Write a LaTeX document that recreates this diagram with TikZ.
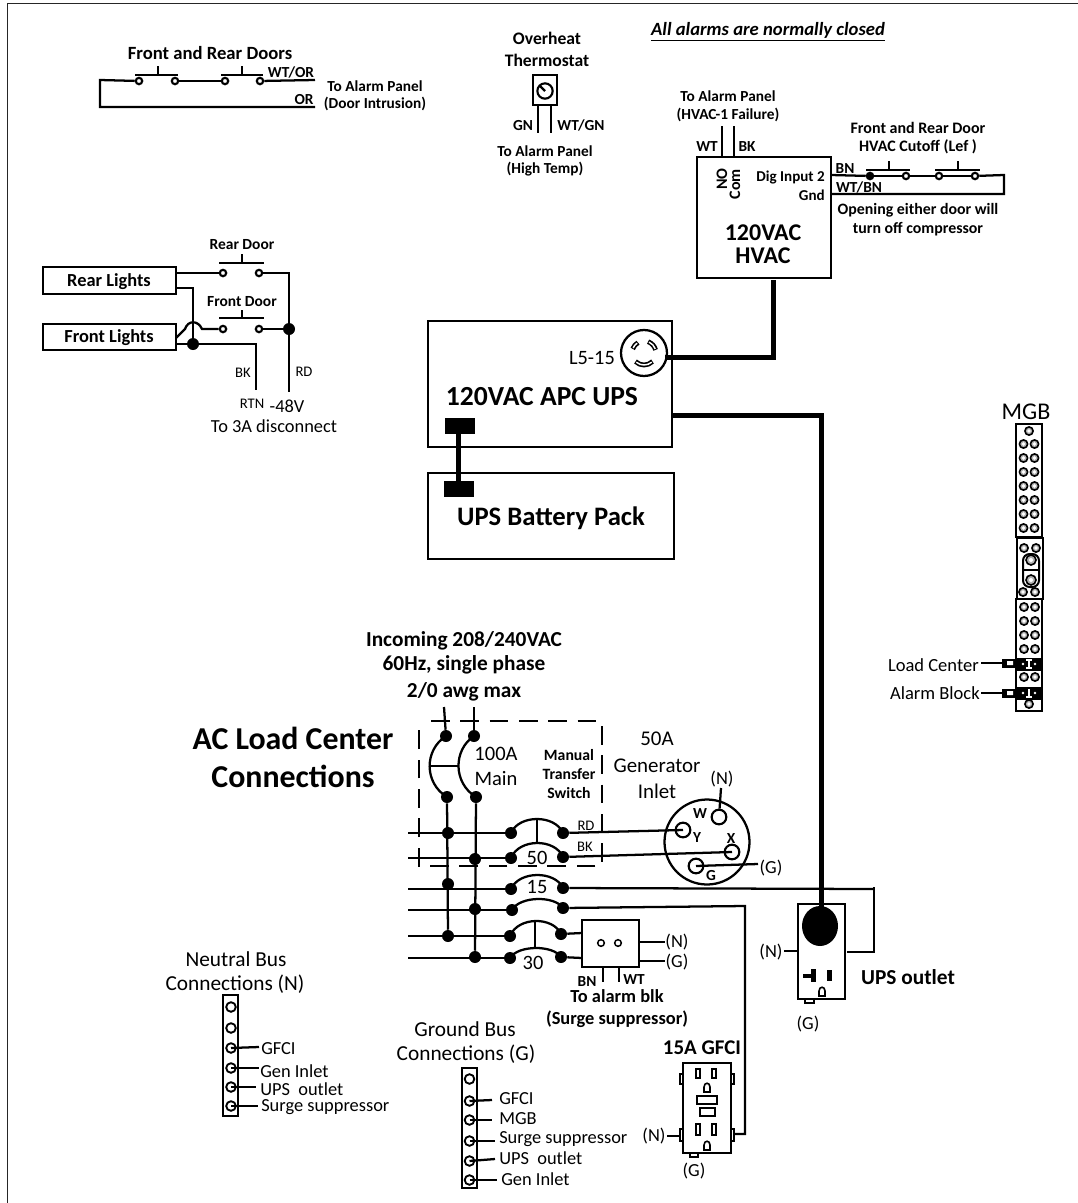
\documentclass[tikz,border=0pt]{standalone}
\usepackage{fontspec}
\setmainfont{Carlito}
\usetikzlibrary{shapes.geometric}
\newcounter{labn}
\newcommand\sz[1]{\fontsize{#1}{#1}\selectfont}
\newcommand\lab[5][]{\stepcounter{labn}\node[txt,font=\sz{#2},#1] (lab\arabic{labn}) at (#3,#4) {#5};}
\newcommand\blab[5][]{\stepcounter{labn}\node[txt,font=\sz{#2}\bfseries,#1] (lab\arabic{labn}) at (#3,#4) {#5};}
\newcommand\Tm[3]{\node[term] (#1) at (#2,#3) {};}
\newcommand\Dt[3]{\node[jdot] (#1) at (#2,#3) {};}
\newcommand\Co[3]{\coordinate (#1) at (#2,#3);}
\newcommand\Bx[6][]{\pgfmathsetmacro\bw{(#5-#3)*0.75}\pgfmathsetmacro\bh{(#6-#4)*0.75}\node[box,minimum width=\bw pt,minimum height=\bh pt,#1] (#2) at ({(#3+#5)/2},{(#4+#6)/2}) {};}
% breaker: name, xl, yl, xr, yr, peak
\newcommand\Brk[6]{\pgfmathsetmacro\cy{(#3+#5)/2-((#3+#5)/2-#6)/0.75}\Dt{#1L}{#2}{#3}\Dt{#1R}{#4}{#5}\draw[wire] (#1L.center) .. controls ({#2+8},\cy) and ({#4-8},\cy) .. (#1R.center);}
\newcommand\Gd[2]{\draw[slot] ({#1-3},{#2+4}) -- ({#1-3},{#2-1}) .. controls ({#1-3},{#2-6}) and ({#1+3},{#2-6}) .. ({#1+3},{#2-1}) -- ({#1+3},{#2+4}) -- cycle;}
\newcommand\Ring[2]{\draw[ringo] (#1,#2) circle[radius=4.1]; \draw[ringi] (#1,#2) circle[radius=1.8];}
\tikzset{
 wire/.style={line width=1.7pt},
 heavy/.style={line width=3.75pt},
 box/.style={draw,line width=1.7pt,inner sep=0pt,outer sep=0pt},
 term/.style={circle,draw,line width=1.6pt,fill=white,inner sep=0pt,minimum size=4.8pt},
 jdot/.style={circle,fill=black,inner sep=0pt,minimum size=9pt},
 pin/.style={circle,draw,line width=1.6pt,inner sep=0pt,minimum size=11pt},
 bus/.style={circle,draw,line width=1.4pt,inner sep=0pt,minimum size=7.2pt},
 txt/.style={inner sep=0pt,align=center,yshift=-0.8pt},
 slot/.style={draw,line width=1.2pt,fill=white},
 solid block/.style={draw,fill=black},
 ringo/.style={draw=black,line width=1.2pt,fill=gray!60},
 ringi/.style={draw=none,fill=white},
 dashbox/.style={line width=1.5pt,dash pattern=on 14pt off 8pt},
}
\begin{document}
\begin{tikzpicture}[x=0.75pt,y=-0.75pt]
\useasboundingbox (0,0) rectangle (1078,1203);
\draw[line width=1pt,black!85] (7.5,1203) -- (7.5,3.7) -- (1078,3.7);

%% ---- top-left door loop
\blab{14}{210}{52}{Front and Rear Doors}
\Tm{da}{139}{81}\Tm{db}{175}{81}\Tm{dc}{225}{81}\Tm{dd}{260}{81}
\Co{dl}{100}{80}\Co{dll}{100}{107}\Co{dr}{315}{80}\Co{drr}{315}{107}
\draw[wire] (da) -- (dl) |- (drr);
\draw[wire] (db) -- (dc); \draw[wire] (dd) -- (dr);
\draw[wire] (135,75) -- (178,75) (158,75) -- (158,66);
\draw[wire] (221,75) -- (263,75) (242,75) -- (242,66);
\blab{11.5}{291}{71}{WT/OR}
\blab{11.5}{304}{98}{OR}
\blab{11.5}{375}{85}{To Alarm Panel}
\blab{11.5}{375}{103}{(Door Intrusion)}

%% ---- thermostat
\blab{13.2}{547}{37}{Overheat}
\blab{13.2}{547}{59}{Thermostat}
\Bx{thermo}{533}{75}{557}{105}
\node[circle,draw,line width=1.6pt,inner sep=0pt,minimum size=11.5pt] (dial) at (545,91) {};
\draw[wire] (dial.center) -- (540,86);
\Co{tga}{538}{105}\Co{tgb}{538}{133}\Co{tha}{551}{105}\Co{thb}{551}{133}
\draw[wire] (tga) -- (tgb); \draw[wire] (tha) -- (thb);
\blab{11.5}{523}{124}{GN}
\blab{11.5}{581}{124}{WT/GN}
\blab{11.5}{545}{150}{To Alarm Panel}
\blab{11.5}{545}{168}{(High Temp)}

\stepcounter{labn}
\node[txt,font=\sz{14}\bfseries\itshape] (lab\arabic{labn}) at (768,31) {\underline{All alarms are normally closed}};

%% ---- HVAC
\Bx{hvac}{697}{157}{831}{278}
\Co{hla}{722}{157}\Co{hlb}{722}{126}\Co{hma}{734}{157}\Co{hmb}{734}{126}
\draw[wire] (hla) -- (hlb); \draw[wire] (hma) -- (hmb);
\blab{11.5}{728}{95}{To Alarm Panel}
\blab{11.5}{728}{114}{(HVAC-1 Failure)}
\blab{11.5}{707}{145}{WT}
\blab{11.5}{747}{145}{BK}
\blab[rotate=90]{12}{722}{178}{NO}
\blab[rotate=90]{12}{735}{183}{Com}
\blab[anchor=east]{11.3}{825}{176}{Dig Input 2}
\blab[anchor=east]{11.3}{825}{194}{Gnd}
\blab{18}{763}{232}{120VAC}
\blab{18}{763}{255}{HVAC}
\Co{hi}{831}{175}\Co{hg}{831}{194}\Co{hx}{1004}{175}\Co{hy}{1004}{194}
\Tm{ha}{870}{176}\Tm{hb}{906}{176}\Tm{hc}{939}{176}\Tm{hd}{975}{176}
\draw[wire] (hi) -- (ha); \draw[wire] (ha) -- (hb); \draw[wire] (hb) -- (hc); \draw[wire] (hc) -- (hd);
\draw[wire] (hd) -- (hx) -- (hy) -- (hg);
\draw[wire] (866,170) -- (910,170) (889,170) -- (889,161);
\draw[wire] (935,170) -- (980,170) (958,170) -- (958,161);
\node[jdot,minimum size=5pt] (hdot) at (870,176) {};
\blab{11.5}{845}{167}{BN}
\blab{11.5}{859}{186}{WT/BN}
\blab{12}{918}{127}{Front and Rear Door}
\blab{12}{918}{146}{HVAC Cutoff (Lef )}
\blab{11.9}{918}{209}{Opening either door will}
\blab{11.9}{918}{228}{turn off compressor}

%% ---- UPS
\Bx{ups}{428}{321}{672}{447}
\Bx{batt}{428}{473}{674}{559}
\lab{15.3}{592}{357}{L5-15}
\blab{20.7}{542}{395}{120VAC APC UPS}
\blab{20}{551}{517}{UPS Battery Pack}
\node[circle,draw,line width=1.7pt,inner sep=0pt,minimum size=34.5pt] (lfive) at (644,353) {};
\begin{scope}[shift={(644,353)},y=0.75pt]
 \foreach \a/\b in {120/160, 15/70, 225/315} {
  \draw[line width=3.6pt] (\a:12) arc[start angle=\a,end angle=\b,radius=12];
  \draw[line width=1.1pt,white] (\a+5:12) arc[start angle=\a+5,end angle=\b-5,radius=12];
 }
\end{scope}
\node[solid block,minimum width=21.75pt,minimum height=11.25pt,inner sep=0pt] (ba) at (459.5,425.5) {};
\node[solid block,minimum width=21.75pt,minimum height=11.25pt,inner sep=0pt] (bb) at (458.5,488.5) {};
\Co{bax}{458}{431}\Co{bbx}{458}{483}
\draw[heavy] (bax) -- (bbx);
\Co{hvb}{773}{280}\Co{hvc}{773}{357}\Co{lfe}{665}{357}
\draw[heavy,line join=miter] (hvb) -- (hvc) -- (lfe);
\Co{upsa}{672}{415}\Co{upsb}{821}{415}

%% ---- UPS outlet
\Bx{uo}{798}{904}{845}{999}
\node[ellipse,fill=black,inner sep=0pt,minimum width=27pt,minimum height=30pt] (uoe) at (820,926) {};
\Co{uot2}{821}{915}
\draw[heavy,line join=miter] (upsa) -- (upsb) -- (uot2);
\draw[solid block,line width=0.5pt] (803,974) rectangle (812,977);
\draw[solid block,line width=0.5pt] (811,969) rectangle (815,981);
\draw[solid block,line width=0.5pt] (827,970) rectangle (831,980);
\Gd{822}{992}
\draw[slot] (805,999) rectangle (814,1003);
\lab{13.8}{771}{951}{(N)}
\lab{13.8}{808}{1023}{(G)}
\Co{uon}{784}{951}\Co{uonb}{798}{951}
\draw[wire] (uon) -- (uonb);
\Co{uor}{847}{952}\Co{uot}{874}{887}
\blab{16}{908}{976}{UPS outlet}

%% ---- GFCI
\Bx{gfbox}{683}{1063}{731}{1153}
\foreach \xa/\ya/\yb in {680/1074/1084,731/1074/1084,680/1129/1141,731/1129/1141} \draw[slot] (\xa,\ya) rectangle ({\xa+3},\yb);
\foreach \xa in {696,712} {\draw[slot] (\xa,1069) rectangle ({\xa+4},1078); \draw[slot] (\xa,1124) rectangle ({\xa+4},1135);}
\draw[slot,line width=1.3pt] (697,1096) rectangle (717,1104);
\draw[slot,line width=1.3pt] (700,1108) rectangle (715,1116);
\Gd{707}{1088}\Gd{707}{1146}
\draw[slot] (690,1153) rectangle (698,1157);
\blab{15.7}{702}{1047}{15A GFCI}
\lab{13.8}{654}{1135}{(N)}
\lab{13.8}{694}{1170}{(G)}
\Co{gfa}{667}{1136}\Co{gfb}{680}{1136}\Co{gfc}{734}{1134}\Co{gfd}{745}{1134}
\draw[wire] (gfa) -- (gfb);

%% ---- MGB
\lab{18}{1026}{411}{MGB}
\Bx{mgba}{1016}{424}{1042}{537}
\Bx{mgbb}{1017}{538}{1043}{599}
\Bx{mgbc}{1016}{599}{1042}{711}
\Ring{1029}{431}
\foreach \y in {444,458,472,486,500,514,528} {\Ring{1023.5}{\y}\Ring{1034.5}{\y}}
\Ring{1024}{548}\Ring{1036}{548}\Ring{1023}{592}\Ring{1035}{592}
\draw[line width=1.5pt,rounded corners=5pt] (1023,554) rectangle (1039,587);
\draw[line width=1pt] (1023,570) -- (1039,570);
\draw[ringo] (1031,560) circle[radius=5]; \draw[ringi] (1031,560) circle[radius=2];
\draw[ringo] (1031,580) circle[radius=5]; \draw[ringi] (1031,580) circle[radius=2];
\foreach \y in {607,621,635,649,677} {\Ring{1024}{\y}\Ring{1035}{\y}}
\Ring{1029}{704}
\node[solid block,minimum width=18.75pt,minimum height=9pt,inner sep=0pt] (mga) at (1029.5,664) {};
\node[solid block,minimum width=18.75pt,minimum height=9pt,inner sep=0pt] (mgb) at (1029.5,693) {};
\node[solid block,minimum width=11.25pt,minimum height=6pt,inner sep=0pt] (lga) at (1009.5,663) {};
\node[solid block,minimum width=11.25pt,minimum height=6pt,inner sep=0pt] (lgb) at (1009.5,693) {};
\fill[white] (1007,661) rectangle (1013,665) (1007,691) rectangle (1013,695);
\foreach \x/\y in {1023/664,1035/664,1023/693,1035/693} \fill[white] (\x,\y) circle[radius=1.4];
\draw[white,line width=1.1pt] (1029,660) -- (1029,668) (1026,660) -- (1032,660) (1026,668) -- (1032,668) (1029,689) -- (1029,697) (1026,697) -- (1032,697);
\lab[anchor=east]{13.9}{979}{664}{Load Center}
\lab[anchor=east]{13.9}{980}{692}{Alarm Block}
\Co{lca}{981}{663}\Co{aba}{981}{693}
\draw[wire] (lca) -- (lga); \draw[wire] (aba) -- (lgb);

%% ---- lights
\node[box] (rl) at (109.5,280.5) [minimum width=99.75pt,minimum height=20.25pt] {};
\node[box] (fl) at (109.5,337) [minimum width=99.75pt,minimum height=19.5pt] {};
\blab{13.8}{109}{281}{Rear Lights}
\blab{13.8}{109}{337}{Front Lights}
\blab{11.6}{242}{243}{Rear Door}
\blab{11.6}{242}{300}{Front Door}
\Tm{ra}{223}{273}\Tm{rb}{259}{273}\Tm{fa}{223}{329}\Tm{fb}{259}{329}
\Dt{jr}{289}{329}\Dt{jb}{193}{344}
\Co{rlo}{176}{273}\Co{rlp}{176}{288}\Co{rlq}{193}{288}
\Co{flo}{176}{338}\Co{flq}{185}{329}\Co{flr}{202}{329}\Co{fls}{176}{344}
\Co{rdc}{289}{273}\Co{rde}{289}{392}\Co{bkc}{256}{344}\Co{bke}{256}{390}
\draw[wire] (rlo) -- (ra); \draw[wire] (rb) -- (rdc) -- (rde);
\draw[wire] (fb) -- (jr);
\draw[wire] (rlp) -- (rlq) -- (jb);
\draw[wire] (flo) -- (flq) .. controls (188,320) and (198,320) .. (flr) -- (fa);
\draw[wire] (fls) -- (bkc) -- (bke);
\draw[wire] (219,263) -- (264,263) (242,263) -- (242,254);
\draw[wire] (219,318) -- (264,318) (242,318) -- (242,310);
\lab{11}{243}{372}{BK}
\lab{11}{304}{371}{RD}
\lab{11}{252}{403}{RTN}
\lab{13.8}{287}{405}{-48V}
\lab{13.8}{274}{425}{To 3A disconnect}

%% ---- load centre
\blab{16}{464}{640}{Incoming 208/240VAC}
\blab{16}{464}{664}{60Hz, single phase}
\blab{16}{464}{691}{2/0 awg max}
\blab{23.9}{293}{737}{AC Load Center}
\blab{23.9}{293}{775}{Connections}
\draw[dashbox] (431,721) -- (602,721) -- (602,866) -- (419,866) -- (419,721);
\Dt{ma}{446}{736}\Dt{mb}{474}{736}\Dt{mc}{447}{797}\Dt{md}{476}{797}
\Co{ina}{444}{707}\Co{inb}{474}{707}
\draw[wire] (ina) -- (ma); \draw[wire] (inb) -- (mb);
\draw[wire] (ma.center) .. controls (424,750) and (424,783) .. (mc.center);
\draw[wire] (mb.center) .. controls (453,750) and (453,783) .. (md.center);
\draw[wire] (430,766) -- (458,766);
\lab{15.4}{496}{753}{100A}
\lab{15.4}{496}{777}{Main}
\blab{11.8}{569}{754}{Manual}
\blab{11.8}{569}{773}{Transfer}
\blab{11.8}{569}{792}{Switch}
\lab{15.7}{657}{738}{50A}
\lab{15.7}{657}{765}{Generator}
\lab{15.7}{657}{790}{Inlet}
% bus junctions
\Dt{ja}{448}{833}\Dt{jc}{448}{884}\Dt{je}{448}{936}
\Dt{jf}{475}{859}\Dt{jg}{475}{909}\Dt{jh}{475}{957}
\draw[wire] (mc) -- (je);
\draw[wire] (md) -- (jh);
% breakers
\Brk{ba}{511}{833}{563}{833}{819}
\Brk{bb}{511}{858}{563}{857}{843}
\Brk{bc}{511}{889}{563}{888}{875}
\Brk{bd}{512}{910}{563}{908}{899}
\Brk{be}{510}{936}{561}{934}{921}
\Brk{bf}{510}{958}{561}{957}{948}
\draw[wire] (537,819) -- (537,843);
\draw[wire] (535,921) -- (535,948);
\foreach \n/\y in {1/833,2/858,3/889,4/910,5/936,6/958} \coordinate (bus\n) at (408,\y);
\draw[wire] (bus1) -- (baL); \draw[wire] (bus2) -- (bbL); \draw[wire] (bus3) -- (bcL);
\draw[wire] (bus4) -- (bdL); \draw[wire] (bus5) -- (beL); \draw[wire] (bus6) -- (bfL);
\lab{15.3}{537}{857}{50}
\lab{15.3}{537}{886}{15}
\lab{15.3}{533}{962}{30}
\lab{11}{586}{825}{RD}
\lab{11}{585}{846}{BK}
% generator inlet
\node[circle,draw,line width=1.7pt,inner sep=0pt,minimum size=63.75pt] (gen) at (707,842) {};
\node[pin] (pw) at (719,817) {};
\node[pin] (py) at (683,830) {};
\node[pin] (px) at (732,852) {};
\node[pin] (pg) at (696,866) {};
\blab{11.5}{700}{812}{W}
\blab{11.5}{697}{836}{Y}
\blab{11.5}{731}{837}{X}
\blab{11.5}{711}{874}{G}
\lab{13.8}{722}{778}{(N)}
\lab{13.8}{771}{867}{(G)}
\Co{pna}{721}{788}\Co{pgb}{758}{864}
\draw[wire] (pna) -- (pw);
\draw[wire] (pg.center) -- (pgb);
\draw[wire] (baR) -- (py.center);
\draw[wire] (bbR) -- (px.center);
% 15 A and GFCI feeds
\Co{bcx}{874}{889}\Co{uoc}{874}{952}
\draw[wire] (bcR) -- (bcx);
\draw[wire] (uot) -- (uoc) -- (uor);
\Co{bdx}{745}{906}
\draw[wire] (bdR) -- (bdx) -- (gfd) -- (gfc);
% surge suppressor
\Bx{surge}{582}{920}{639}{967}
\node[circle,draw,line width=1.1pt,inner sep=0pt,minimum size=5pt] (sa) at (601,943) {};
\node[circle,draw,line width=1.1pt,inner sep=0pt,minimum size=5pt] (sb) at (618,943) {};
\Co{sla}{582}{933}\Co{slb}{582}{958}\Co{sra}{639}{942}\Co{srb}{665}{942}\Co{src}{639}{961}\Co{srd}{665}{961}
\Co{sba}{603}{967}\Co{sbb}{603}{982}\Co{sbc}{619}{967}\Co{sbd}{619}{982}
\draw[wire] (beR) -- (sla); \draw[wire] (bfR) -- (slb);
\draw[wire] (sra) -- (srb); \draw[wire] (src) -- (srd);
\draw[wire] (sba) -- (sbb); \draw[wire] (sbc) -- (sbd);
\lab{13.8}{677}{941}{(N)}
\lab{13.8}{677}{961}{(G)}
\blab{11.5}{587}{980}{BN}
\blab{11.5}{634}{978}{WT}
\blab{13.8}{617}{995}{To alarm blk}
\blab{13.8}{617}{1018}{(Surge suppressor)}

%% ---- neutral bus
\lab{16}{236}{958}{Neutral Bus}
\lab{16}{235}{983}{Connections (N)}
\Bx{nbus}{223}{995}{238}{1116}
\foreach \n/\y in {a/1007,b/1028,c/1048,d/1068,e/1087,f/1106} \node[bus] (n\n) at (231,\y) {};
\Co{nlc}{259}{1047}\Co{nld}{259}{1068}\Co{nle}{256}{1087}\Co{nlf}{258}{1106}
\draw[wire] (nc.center) -- (nlc); \draw[wire] (nd.center) -- (nld);
\draw[wire] (ne.center) -- (nle); \draw[wire] (nf.center) -- (nlf);
\lab[anchor=west]{13.8}{261}{1048}{GFCI}
\lab[anchor=west]{13.8}{260}{1070}{Gen Inlet}
\lab[anchor=west]{13.8}{260}{1088}{UPS\ \ outlet}
\lab[anchor=west]{13.8}{261}{1106}{Surge suppressor}

%% ---- ground bus
\lab{16}{465}{1028}{Ground Bus}
\lab{16}{466}{1053}{Connections (G)}
\Bx{gbus}{462}{1068}{477}{1188}
\foreach \n/\y in {a/1079,b/1101,c/1120,d/1141,e/1161,f/1180} \node[bus] (g\n) at (469.5,\y) {};
\Co{glb}{492}{1100}\Co{glc}{492}{1120}\Co{gld}{495}{1141}\Co{gle}{495}{1159}\Co{glf}{497}{1180}
\draw[wire] (gb.center) -- (glb); \draw[wire] (gc.center) -- (glc);
\draw[wire] (gd.center) -- (gld); \draw[wire] (ge.center) -- (gle); \draw[wire] (gf.center) -- (glf);
\lab[anchor=west]{13.8}{499}{1098}{GFCI}
\lab[anchor=west]{13.8}{499}{1118}{MGB}
\lab[anchor=west]{13.8}{499}{1138}{Surge suppressor}
\lab[anchor=west]{13.8}{499}{1157}{UPS\ \ outlet}
\lab[anchor=west]{13.8}{501}{1178}{Gen Inlet}
\end{tikzpicture}
\end{document}
